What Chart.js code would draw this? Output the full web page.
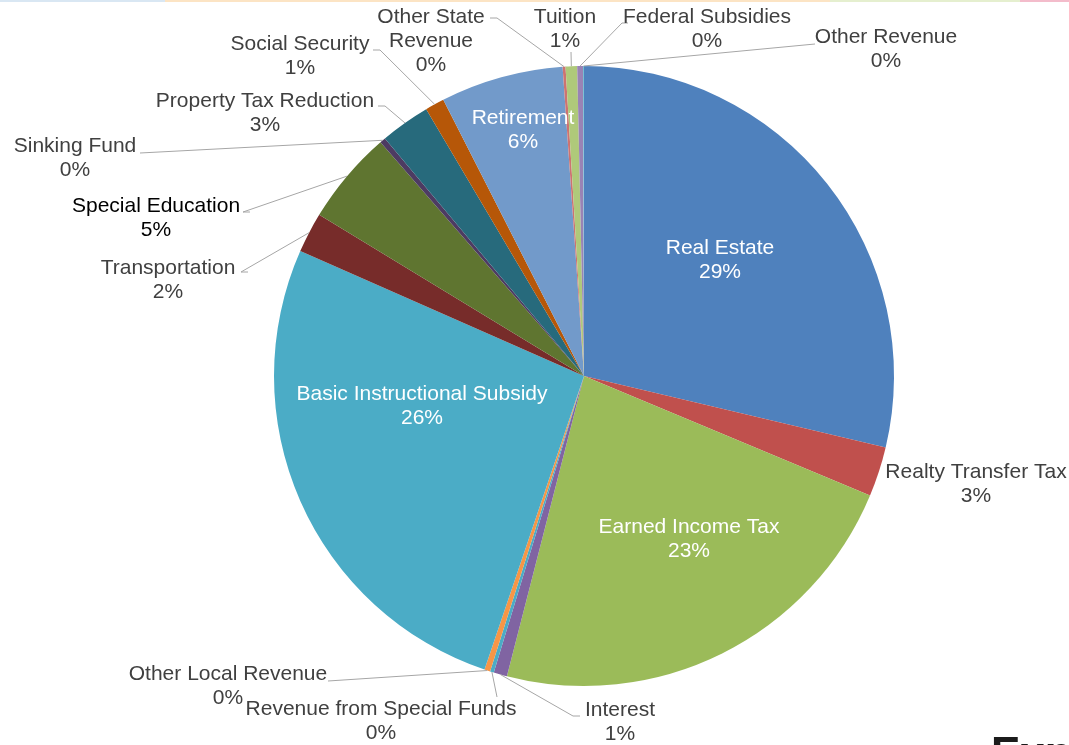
<!DOCTYPE html>
<html>
<head>
<meta charset="utf-8">
<script src="https://cdn.jsdelivr.net/npm/chart.js@4/dist/chart.umd.min.js"></script>
<style>
  html, body { margin: 0; padding: 0; background: #fff; overflow: hidden; }
  #wrap { position: relative; width: 1069px; height: 745px; overflow: hidden; }
  .topline { position: absolute; top: 0; height: 2px; }
  #exp { position: absolute; left: 991px; top: 731px; font: bold 44px "Liberation Sans", Arial, sans-serif; color: #1b1b1b; line-height: 1; }
</style>
</head>
<body>
<div id="wrap">
  <div class="topline" style="left:0;width:165px;background:#d9e7f3"></div>
  <div class="topline" style="left:165px;width:665px;background:#fce4c4"></div>
  <div class="topline" style="left:830px;width:190px;background:#e5efcf"></div>
  <div class="topline" style="left:1020px;width:49px;background:#f3bccb"></div>
  <canvas id="revenueChart"></canvas>
  <div id="exp">Exp</div>
</div>
<script>
  // revenue sources, clockwise from 12 o'clock (shares in %)
  const categories = [
    'Real Estate', 'Realty Transfer Tax', 'Earned Income Tax', 'Interest',
    'Revenue from Special Funds', 'Other Local Revenue', 'Basic Instructional Subsidy',
    'Transportation', 'Special Education', 'Sinking Fund', 'Property Tax Reduction',
    'Social Security', 'Retirement', 'Other State Revenue', 'Tuition',
    'Federal Subsidies', 'Other Revenue'
  ];
  const values = [
    28.7, 2.6, 22.7, 0.7,
    0.2, 0.3, 26.4,
    2.1, 4.9, 0.3, 2.6,
    1.0, 6.4, 0.15, 0.6,
    0.3, 0.05
  ];
  const colors = [
    '#4F81BD', '#C0504D', '#9BBB59', '#8064A2',
    '#4BACC6', '#F79646', '#4BACC6',
    '#772C2A', '#5F7530', '#4D3B62', '#276A7C',
    '#B65708', '#729ACA', '#CD7371', '#AFC97A',
    '#9983B5', '#6FBDD1'
  ];

  // where each label sits (text centre, first line) and its leader line start
  const labelLayout = [
    { x: 720, y: 248, inside: true },
    { x: 976, y: 472 },
    { x: 689, y: 527, inside: true },
    { x: 620, y: 710, leader: [[580, 716], [573, 716]] },
    { x: 381, y: 709, leader: [[497, 697]] },
    { x: 228, y: 674, leader: [[328, 681]] },
    { x: 422, y: 394, inside: true },
    { x: 168, y: 268, leader: [[248, 272], [241, 272]] },
    { x: 156, y: 206, leader: [[250, 212], [243, 212]], color: '#000000' },
    { x: 75, y: 146, leader: [[140, 153]] },
    { x: 265, y: 101, leader: [[378, 106], [385, 106]] },
    { x: 300, y: 44, leader: [[373, 50], [380, 50]] },
    { x: 523, y: 118, inside: true },
    { x: 431, y: 17, leader: [[490, 18], [497, 18]], lines: ['Other State', 'Revenue'] },
    { x: 565, y: 17, leader: [[571, 52]] },
    { x: 707, y: 17, leader: [[628, 23], [622, 23]] },
    { x: 886, y: 37, leader: [[815, 44]] }
  ];

  const sliceLabels = {
    id: 'sliceLabels',
    afterDatasetsDraw(chart) {
      const ctx = chart.ctx;
      const meta = chart.getDatasetMeta(0);
      const total = values.reduce((a, b) => a + b, 0);
      ctx.save();
      ctx.font = '21px "Liberation Sans", Arial, sans-serif';
      ctx.textAlign = 'center';
      ctx.textBaseline = 'middle';
      meta.data.forEach((arc, i) => {
        const lay = labelLayout[i];
        const p = arc.getProps(['x', 'y', 'startAngle', 'endAngle', 'outerRadius'], true);
        const mid = (p.startAngle + p.endAngle) / 2;
        const ex = p.x + p.outerRadius * Math.cos(mid);
        const ey = p.y + p.outerRadius * Math.sin(mid);
        if (lay.leader) {
          ctx.strokeStyle = '#a6a6a6';
          ctx.lineWidth = 1;
          ctx.beginPath();
          ctx.moveTo(lay.leader[0][0], lay.leader[0][1]);
          lay.leader.slice(1).forEach(pt => ctx.lineTo(pt[0], pt[1]));
          ctx.lineTo(ex, ey);
          ctx.stroke();
        }
        const pct = Math.round(values[i] / total * 100) + '%';
        const lines = (lay.lines || [categories[i]]).concat([pct]);
        ctx.fillStyle = lay.inside ? '#ffffff' : (lay.color || '#404040');
        lines.forEach((t, k) => ctx.fillText(t, lay.x, lay.y + k * 24));
      });
      ctx.restore();
    }
  };

  new Chart(document.getElementById('revenueChart'), {
    type: 'pie',
    data: {
      labels: categories,
      datasets: [{
        data: values,
        backgroundColor: colors,
        borderWidth: 0
      }]
    },
    options: {
      responsive: true,
      maintainAspectRatio: false,
      animation: false,
      layout: { padding: { left: 274, right: 175, top: 66, bottom: 59 } },
      plugins: {
        legend: { display: false },
        tooltip: { enabled: false }
      }
    },
    plugins: [sliceLabels]
  });
</script>
</body>
</html>
